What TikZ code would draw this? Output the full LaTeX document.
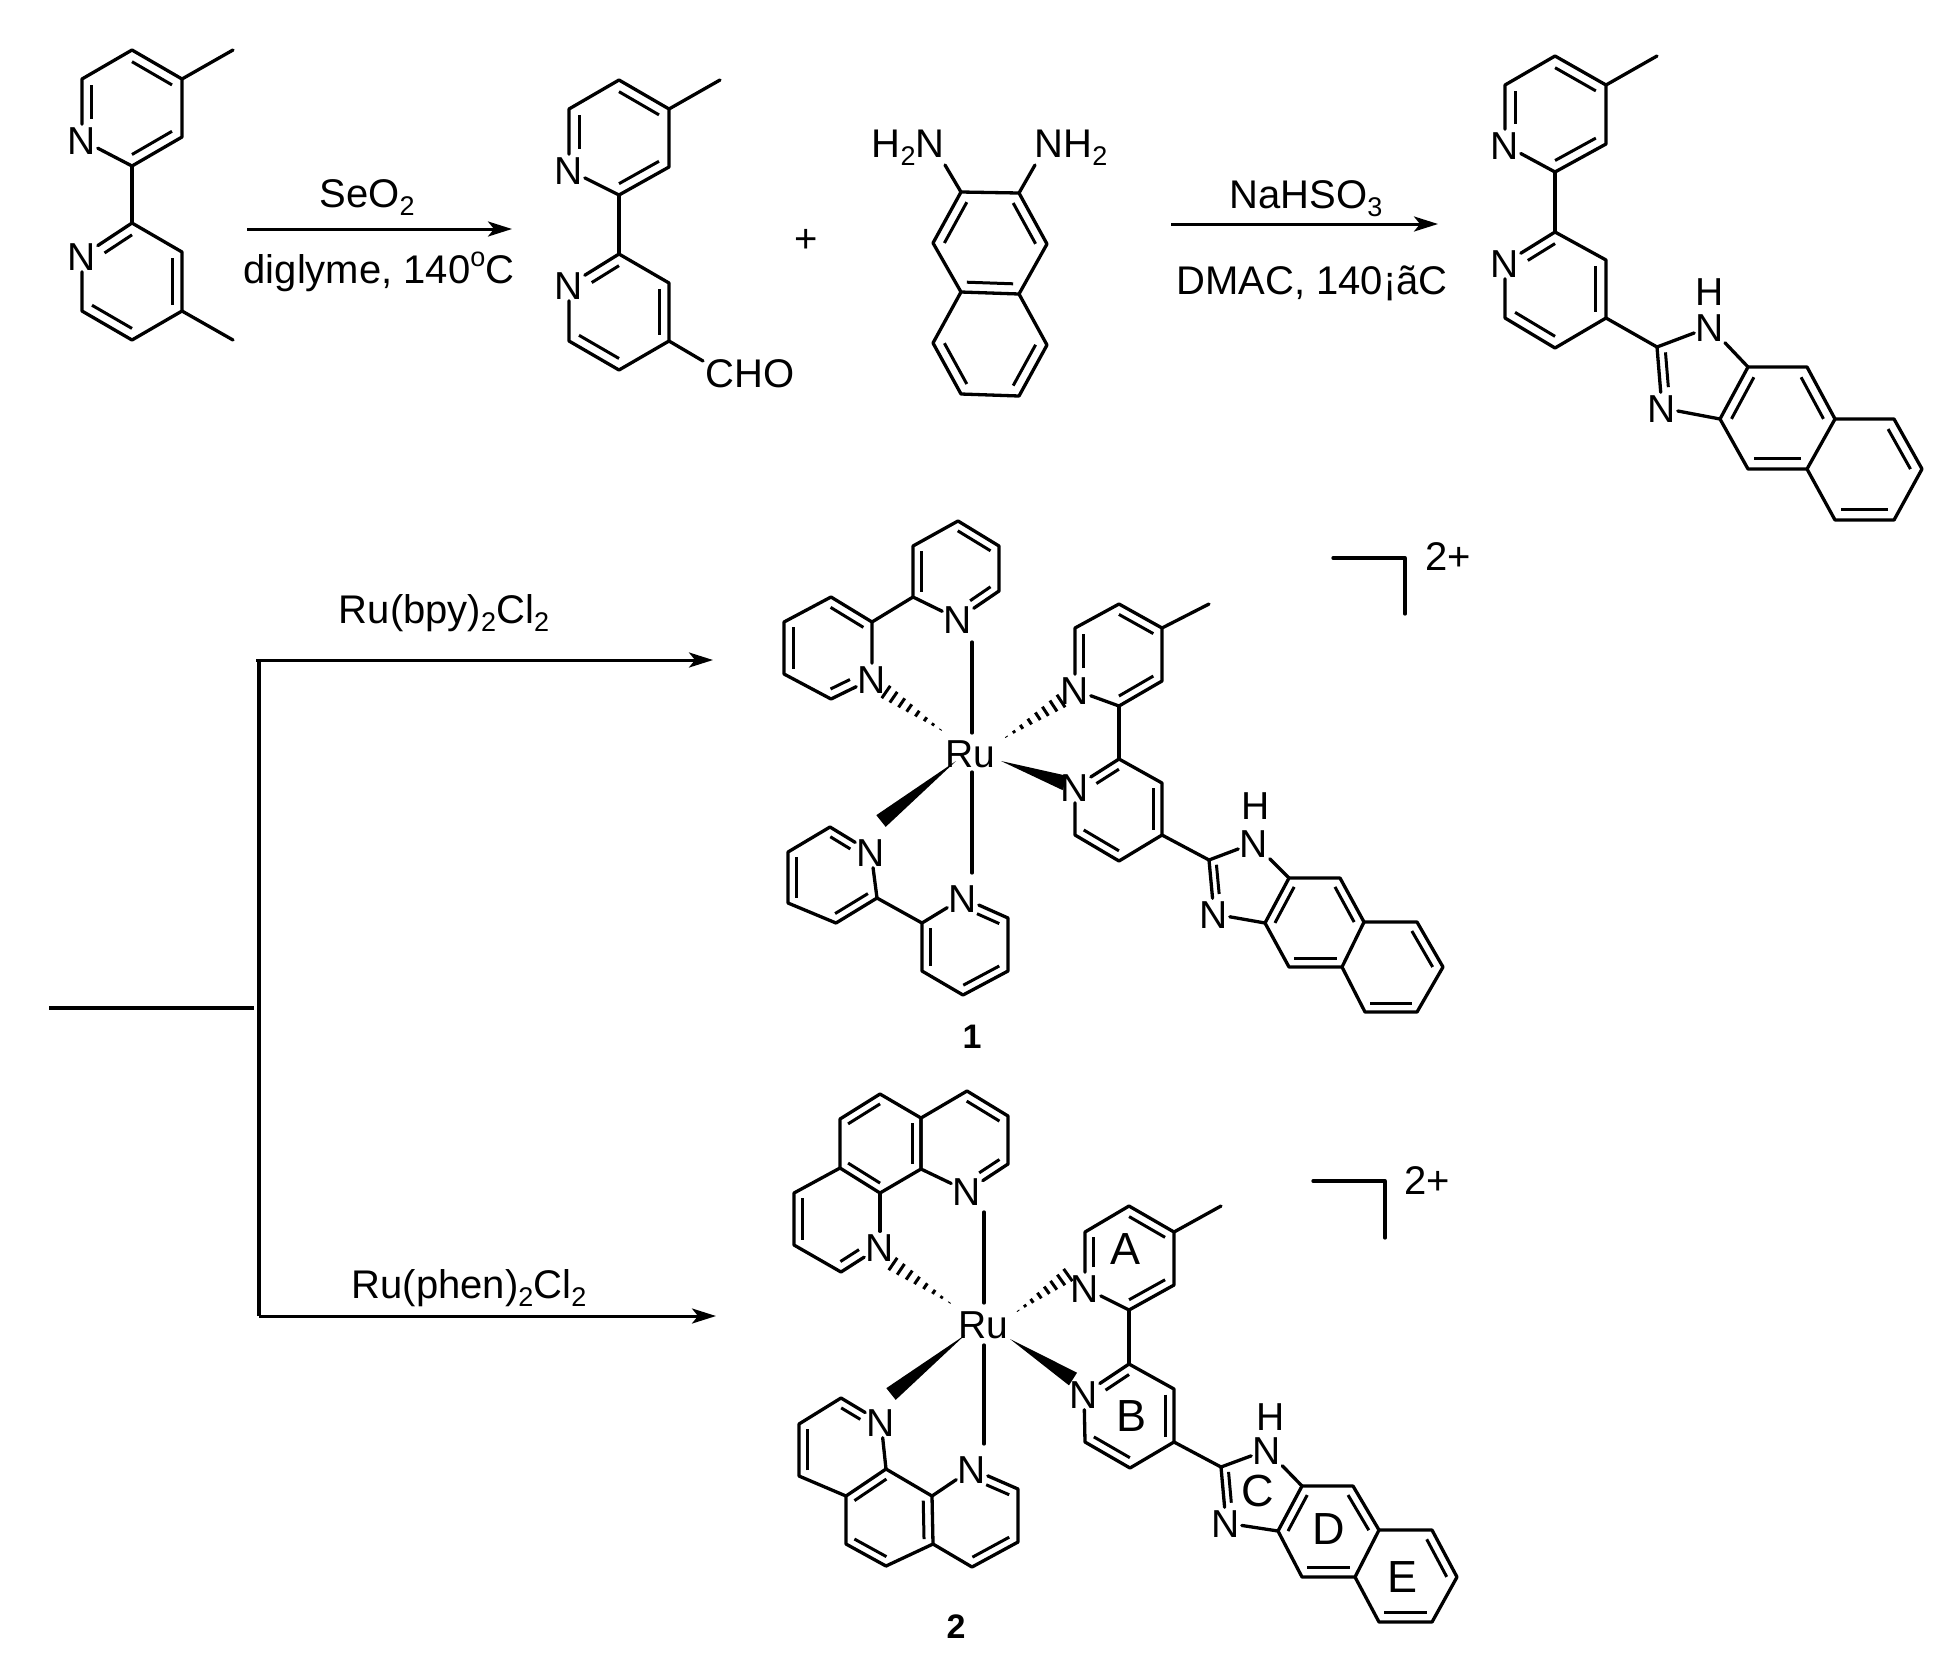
\documentclass[tikz,border=0pt]{standalone}
\usepackage{fontspec}
\setmainfont{Liberation Sans}
\usetikzlibrary{calc,arrows.meta}
\newcommand\Sb[1]{\raisebox{-.2em}{\fontsize{27}{27}\selectfont #1}}
\newcommand\Sp[1]{\raisebox{.42em}{\fontsize{27}{27}\selectfont #1}}
\tikzset{
  bond/.style={line width=3.3pt,line join=round,line cap=round,black},
  inbond/.style={line width=3pt,line cap=butt,black},
  hashl/.style={line width=3pt,black},
  atom/.style={font=\fontsize{39}{39}\selectfont,inner sep=1.5pt,text height=28pt,text depth=0pt},
  txt/.style={font=\fontsize{40}{40}\selectfont,inner sep=0pt},
  ringlbl/.style={font=\fontsize{45}{45}\selectfont,inner sep=0pt},
  cmpd/.style={font=\fontsize{34}{34}\selectfont\bfseries,inner sep=0pt},
  rxn/.style={line width=3pt,-{Stealth[length=24pt,width=15pt,inset=6pt]}},
  plain/.style={line width=3.2pt},
  thick3/.style={line width=4.2pt}
}
% ring: a top, then clockwise; o = centre
\newcommand\Rg[7]{\coordinate(#1a)at#2;\coordinate(#1b)at#3;\coordinate(#1c)at#4;\coordinate(#1d)at#5;\coordinate(#1e)at#6;\coordinate(#1f)at#7;\coordinate(#1o)at(barycentric cs:#1a=1,#1b=1,#1c=1,#1d=1,#1e=1,#1f=1);}
% second line of a double bond, drawn towards a ring centre
\newcommand\In[4][]{\draw[inbond,#1]($(#2)!.2!(#4)$)--($(#3)!.2!(#4)$);}
% upper pyridine: N at e
\newcommand\TopPy[1]{\node[atom](#1N)at(#1e){N};
  \draw[bond](#1N)--(#1d)--(#1c)--(#1b)--(#1a)--(#1f)--(#1N);
  \In{#1a}{#1b}{#1o}\In{#1c}{#1d}{#1o}\In[shorten <=15pt]{#1e}{#1f}{#1o}}
% lower pyridine: N at f
\newcommand\BotPy[1]{\node[atom](#1N)at(#1f){N};
  \draw[bond](#1N)--(#1e)--(#1d)--(#1c)--(#1b)--(#1a)--(#1N);
  \In[shorten <=15pt]{#1f}{#1a}{#1o}\In{#1b}{#1c}{#1o}\In{#1d}{#1e}{#1o}}
% fused rings D and E + imidazole
\newcommand\Naph[1]{
  \draw[bond](#1Da)--(#1Db)--(#1Dc)--(#1Dd)--(#1De)--(#1Df)--cycle;
  \draw[bond](#1Ea)--(#1Eb)--(#1Ec)--(#1Ed)--(#1Ee)--(#1Ef);
  \In{#1Df}{#1Da}{#1Do}\In{#1Db}{#1Dc}{#1Do}\In{#1Dd}{#1De}{#1Do}
  \In{#1Eb}{#1Ec}{#1Eo}\In{#1Ed}{#1Ee}{#1Eo}
  \coordinate(#1Io)at(barycentric cs:#1C=1,#1NHp=1,#1Da=1,#1Df=1,#1Nbp=1);
  \node[atom](#1NH)at(#1NHp){N};\node[atom](#1Nb)at(#1Nbp){N};\node[atom](#1H)at(#1Hp){H};
  \draw[bond](#1C)--(#1NH);\draw[bond](#1NH)--(#1Da);\draw[bond](#1Df)--(#1Nb);\draw[bond](#1Nb)--(#1C);
  \In[shorten >=14pt]{#1C}{#1Nbp}{#1Io}}
\newcommand\Wd[2]{\fill[black]($(#2)!7.5pt!90:(#1)$)--(#1)--($(#2)!7.5pt!-90:(#1)$)--cycle;}
\newcommand\Hs[2]{\foreach \t in {.06,.19,.32,.46,.6,.73,.87,1}{\draw[hashl]($(#1)!\t!($(#2)!7.5pt!90:(#1)$)$)--($(#1)!\t!($(#2)!7.5pt!-90:(#1)$)$);}}
\begin{document}
\begin{tikzpicture}[x=1pt,y=-1pt]
\useasboundingbox(0,0)rectangle(1951,1666);
\fill[white](0,0)rectangle(1951,1666);
%% ---------- dimethyl bipyridine
\Rg{At}{(132,50)}{(182,79)}{(182,137)}{(132,166)}{(82,140)}{(82,79)}
\Rg{Ab}{(132,223)}{(182,252)}{(182,311)}{(132,340)}{(82,311)}{(82,256)}
\TopPy{At}\BotPy{Ab}
\coordinate(Am1)at(233,50);\coordinate(Am2)at(233,340);
\draw[bond](Atd)--(Aba);\draw[bond](Atb)--(Am1);\draw[bond](Abc)--(Am2);
%% ---------- arrow 1
\coordinate(ar1s)at(247,229);\coordinate(ar1e)at(512,229);
\draw[rxn](ar1s)--(ar1e);
\node[txt](seo)at(367,198){SeO\Sb{2}};
\node[txt](dig)at(379,272){diglyme, 140\Sp{o}C};
%% ---------- aldehyde
\Rg{Bt}{(619,80)}{(669,109)}{(669,167)}{(619,195)}{(569,170)}{(569,109)}
\Rg{Bb}{(619,254)}{(669,283)}{(669,341)}{(619,370)}{(569,341)}{(569,285)}
\TopPy{Bt}\BotPy{Bb}
\coordinate(Bm1)at(720,80);
\draw[bond](Btd)--(Bba);\draw[bond](Btb)--(Bm1);
\node[txt](cho)at(750,374){CHO};
\coordinate(Bcho)at(703,361);\draw[bond](Bbc)--(Bcho);
\node[txt](plus)at(806,241){+};
%% ---------- diaminonaphthalene
\Rg{Nt}{(961,192)}{(1019,193)}{(1047,244)}{(1019,294)}{(961,292)}{(933,243)}
\Rg{Nq}{(961,292)}{(1019,294)}{(1047,345)}{(1019,396)}{(961,394)}{(933,343)}
\draw[bond](Nta)--(Ntb)--(Ntc)--(Ntd)--(Nte)--(Ntf)--cycle;
\draw[bond](Nqb)--(Nqc)--(Nqd)--(Nqe)--(Nqf)--(Nqa);
\In{Ntf}{Nta}{Nto}\In{Ntb}{Ntc}{Nto}\In{Ntd}{Nte}{Nto}
\In{Nqc}{Nqd}{Nqo}\In{Nqe}{Nqf}{Nqo}
\node[txt](h2n)at(908,148){H\Sb{2}N};
\node[txt](nh2)at(1071,148){NH\Sb{2}};
\coordinate(nl)at(945,165);\coordinate(nr)at(1035,165);
\draw[bond](nl)--(Nta);\draw[bond](nr)--(Ntb);
%% ---------- arrow 2
\coordinate(ar2s)at(1171,224);\coordinate(ar2e)at(1438,224);
\draw[rxn](ar2s)--(ar2e);
\node[txt](nahs)at(1306,199){NaHSO\Sb{3}};
\node[txt](dmac)at(1312,283){DMAC, 140¡ãC};
%% ---------- product ligand
\Rg{Ct}{(1555,56)}{(1606,85)}{(1606,144)}{(1555,172)}{(1505,145)}{(1505,85)}
\Rg{Cb}{(1555,232)}{(1606,260)}{(1606,318)}{(1555,348)}{(1505,318)}{(1505,263)}
\TopPy{Ct}\BotPy{Cb}
\coordinate(Cm1)at(1657,56);
\draw[bond](Ctd)--(Cba);\draw[bond](Ctb)--(Cm1);
\coordinate(cC)at(1657,347);\coordinate(cNHp)at(1710,327);\coordinate(cNbp)at(1662,408);\coordinate(cHp)at(1710,291);
\Rg{cD}{(1748,367)}{(1807,367)}{(1835,419)}{(1807,469)}{(1748,469)}{(1720,419)}
\Rg{cE}{(1835,419)}{(1894,419)}{(1922,469)}{(1894,520)}{(1835,520)}{(1807,469)}
\Naph{c}\draw[bond](Cbc)--(cC);
%% ---------- branching scheme
\coordinate(bs)at(49,1008);\coordinate(bm)at(254,1008);
\coordinate(vt)at(259,662);\coordinate(vb)at(259,1316);
\coordinate(au)at(256,660);\coordinate(aue)at(713,660);
\coordinate(ad)at(259,1316);\coordinate(ade)at(716,1316);
\draw[plain](bs)--(bm);\draw[thick3](vt)--(vb);
\draw[rxn](au)--(aue);\draw[rxn](ad)--(ade);
\node[txt](rb)at(444,613){Ru(bpy)\Sb{2}Cl\Sb{2}};
\node[txt](rp)at(469,1288){Ru(phen)\Sb{2}Cl\Sb{2}};
%% ---------- complex 1
\node[atom](r1)at(970,753){Ru};
\node[atom](n1a)at(958,619){N};\node[atom](n1b)at(872,679){N};
\Rg{p}{(958,521)}{(999,546)}{(999,591)}{(958,619)}{(913,597)}{(913,546)}
\draw[bond](n1a)--(pc)--(pb)--(pa)--(pf)--(pe)--(n1a);
\In{pa}{pb}{po}\In[shorten >=15pt]{pc}{pd}{po}\In{pe}{pf}{po}
\Rg{q}{(831,597)}{(872,622)}{(872,679)}{(831,699)}{(784,674)}{(784,622)}
\draw[bond](n1b)--(qb)--(qa)--(qf)--(qe)--(qd)--(n1b);
\In{qa}{qb}{qo}\In[shorten >=15pt]{qd}{qc}{qo}\In{qe}{qf}{qo}
\draw[bond](qb)--(pe);
\node[atom](n1c)at(871,852){N};\node[atom](n1d)at(963,898){N};
\Rg{s}{(830,827)}{(871,852)}{(877,898)}{(836,923)}{(788,903)}{(788,852)}
\draw[bond](n1c)--(sa)--(sf)--(se)--(sd)--(sc)--(n1c);
\In[shorten >=15pt]{sa}{sb}{so}\In{sc}{sd}{so}\In{se}{sf}{so}
\Rg{u}{(963,898)}{(1008,918)}{(1008,971)}{(963,995)}{(922,971)}{(922,923)}
\draw[bond](n1d)--(ub)--(uc)--(ud)--(ue)--(uf)--(n1d);
\In[shorten <=15pt]{ua}{ub}{uo}\In{uc}{ud}{uo}\In{ue}{uf}{uo}
\draw[bond](sc)--(uf);
\coordinate(v1)at(972,642);\coordinate(v2)at(972,733);\coordinate(v3)at(972,772);\coordinate(v4)at(972,873);
\draw[bond](v1)--(v2);\draw[bond](v3)--(v4);
\coordinate(h1a)at(944,732);\coordinate(h1b)at(886,692);\coordinate(h1c)at(1003,739);\coordinate(h1d)at(1061,701);
\Hs{h1a}{h1b}\Hs{h1c}{h1d}
\coordinate(w1a)at(956,761);\coordinate(w1b)at(881,821);\coordinate(w1c)at(1001,761);\coordinate(w1d)at(1065,783);
\Wd{w1a}{w1b}\Wd{w1c}{w1d}
\Rg{Dt}{(1119,604)}{(1162,628)}{(1162,681)}{(1119,706)}{(1075,690)}{(1075,628)}
\Rg{Db}{(1119,759)}{(1162,783)}{(1162,835)}{(1119,861)}{(1075,835)}{(1075,787)}
\TopPy{Dt}\BotPy{Db}
\coordinate(Dm1)at(1209,604);
\draw[bond](Dtd)--(Dba);\draw[bond](Dtb)--(Dm1);
\coordinate(dC)at(1209,860);\coordinate(dNHp)at(1254,843);\coordinate(dNbp)at(1214,914);\coordinate(dHp)at(1256,805);
\Rg{dD}{(1289,878)}{(1340,878)}{(1364,922)}{(1342,967)}{(1289,967)}{(1265,923)}
\Rg{dE}{(1364,922)}{(1417,922)}{(1443,967)}{(1417,1012)}{(1365,1012)}{(1342,967)}
\Naph{d}\draw[bond](Dbc)--(dC);
\node[cmpd](c1)at(972,1037){1};
\coordinate(br1a)at(1333,558);\coordinate(br1b)at(1405,558);\coordinate(br1c)at(1405,614);
\draw[bond](br1a)--(br1b)--(br1c);
\node[txt](ch1)at(1448,557){2+};
%% ---------- complex 2
\node[atom](r2)at(983,1324){Ru};
\node[atom](m1)at(967,1191){N};\node[atom](m2)at(880,1247){N};
\Rg{e}{(967,1091)}{(1008,1116)}{(1008,1164)}{(967,1191)}{(921,1169)}{(921,1118)}
\Rg{f}{(880,1094)}{(921,1118)}{(921,1169)}{(880,1193)}{(840,1168)}{(840,1119)}
\Rg{g}{(840,1168)}{(880,1193)}{(880,1247)}{(841,1272)}{(794,1245)}{(794,1193)}
\draw[bond](m1)--(ec)--(eb)--(ea)--(ef)--(ee)--(m1);
\draw[bond](fb)--(fa)--(ff)--(fe)--(fd)--(fc)--cycle;
\draw[bond](m2)--(gb);\draw[bond](m2)--(gd)--(ge)--(gf)--(ga);
\In{ea}{eb}{eo}\In[shorten >=15pt]{ec}{ed}{eo}
\In{fa}{ff}{fo}\In{fb}{fc}{fo}\In{fd}{fe}{fo}
\In{ge}{gf}{go}\In[shorten >=15pt]{gd}{gc}{go}
\node[atom](m3)at(881,1422){N};\node[atom](m4)at(972,1469){N};
\Rg{i}{(841,1398)}{(881,1422)}{(886,1469)}{(846,1496)}{(799,1476)}{(799,1424)}
\Rg{j}{(886,1469)}{(932,1496)}{(933,1544)}{(886,1566)}{(846,1544)}{(846,1496)}
\Rg{k}{(972,1469)}{(1018,1489)}{(1018,1542)}{(972,1567)}{(933,1544)}{(932,1496)}
\draw[bond](m3)--(ia)--(if)--(ie)--(id);
\draw[bond](m3)--(ic);
\draw[bond](ja)--(jb)--(jc)--(jd)--(je)--(jf)--cycle;
\draw[bond](jb)--(m4);\draw[bond](m4)--(kb)--(kc)--(kd)--(ke);
\In[shorten >=15pt]{ia}{ib}{io}\In{ie}{if}{io}
\In{ja}{jf}{jo}\In{jb}{jc}{jo}\In{jd}{je}{jo}
\In[shorten <=15pt]{ka}{kb}{ko}\In{kc}{kd}{ko}
\coordinate(x1)at(984,1212);\coordinate(x2)at(984,1303);\coordinate(x3)at(984,1345);\coordinate(x4)at(984,1444);
\draw[bond](x1)--(x2);\draw[bond](x3)--(x4);
\coordinate(h2a)at(953,1305);\coordinate(h2b)at(893,1264);\coordinate(h2c)at(1015,1313);\coordinate(h2d)at(1068,1275);
\Hs{h2a}{h2b}\Hs{h2c}{h2d}
\coordinate(w2a)at(965,1335);\coordinate(w2b)at(891,1394);\coordinate(w2c)at(1010,1339);\coordinate(w2d)at(1073,1379);
\Wd{w2a}{w2b}\Wd{w2c}{w2d}
\Rg{Et}{(1129,1206)}{(1174,1232)}{(1174,1285)}{(1129,1310)}{(1085,1288)}{(1085,1232)}
\Rg{Eb}{(1129,1364)}{(1174,1389)}{(1174,1442)}{(1130,1468)}{(1085,1442)}{(1084,1394)}
\TopPy{Et}\BotPy{Eb}
\coordinate(Em1)at(1221,1206);
\draw[bond](Etd)--(Eba);\draw[bond](Etb)--(Em1);
\coordinate(zC)at(1221,1467);\coordinate(zNHp)at(1267,1450);\coordinate(zNbp)at(1226,1523);\coordinate(zHp)at(1271,1416);
\Rg{zD}{(1302,1486)}{(1353,1486)}{(1379,1530)}{(1355,1577)}{(1302,1577)}{(1278,1531)}
\Rg{zE}{(1379,1530)}{(1432,1530)}{(1457,1577)}{(1432,1622)}{(1379,1622)}{(1355,1577)}
\Naph{z}\draw[bond](Ebc)--(zC);
\node[ringlbl](la)at(1125,1249){A};\node[ringlbl](lb)at(1131,1416){B};
\node[ringlbl](lc)at(1258,1491){C};\node[ringlbl](ld)at(1329,1529){D};\node[ringlbl](le)at(1402,1577){E};
\node[cmpd](c2)at(956,1627){2};
\coordinate(br2a)at(1313,1181);\coordinate(br2b)at(1385,1181);\coordinate(br2c)at(1385,1238);
\draw[bond](br2a)--(br2b)--(br2c);
\node[txt](ch2)at(1427,1181){2+};
\end{tikzpicture}
\end{document}
